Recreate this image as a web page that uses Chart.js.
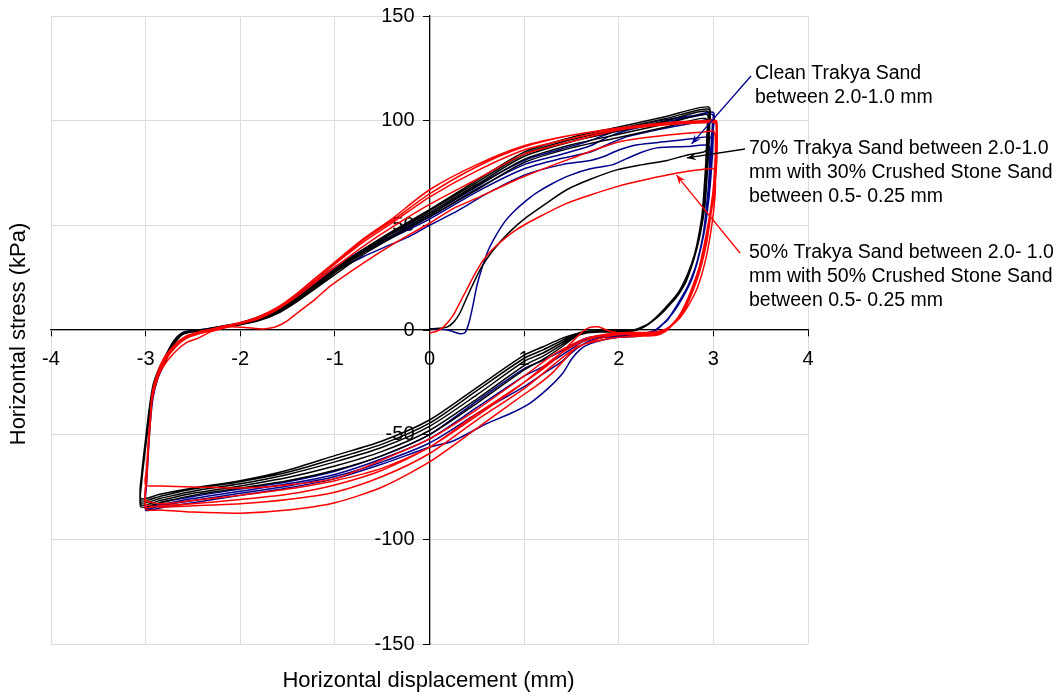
<!DOCTYPE html>
<html><head><meta charset="utf-8">
<script src="https://cdn.jsdelivr.net/npm/chart.js@4.4.1/dist/chart.umd.min.js"></script>
<style>html,body{margin:0;padding:0;background:#fff}canvas{display:block}</style>
</head><body>
<canvas id="c" width="1060" height="697"></canvas>
<script>
// ---- axis settings ----
const xMin = -4, xMax = 4, xStep = 1;
const yMin = -150, yMax = 150, yStep = 50;
const xTitle = 'Horizontal displacement (mm)';
const yTitle = 'Horizontal stress (kPa)';

// ---- Clean Trakya Sand (blue) ----
const blue0 = [[0,0.3],[0.15,0.3],[0.25,-0.8],[0.33,-1.8],[0.38,-1],[0.42,4],[0.46,12],[0.5,21],[0.55,29],[0.62,38],[0.7,45],[0.8,52],[0.9,57],[1.0,61],[1.13,65.5],[1.3,70],[1.49,74],[1.7,77],[1.94,79],[2.09,82],[2.25,85],[2.4,87],[2.72,87.6],[2.95,88]];
const blue1 = [[2.96,80],[2.95,70],[2.93,60],[2.9,48],[2.86,38],[2.8,28],[2.72,20],[2.62,12],[2.52,5],[2.42,1],[2.35,-1.5],[2.2,-3],[2.0,-3.5],[1.85,-4.5],[1.7,-6.5],[1.6,-9],[1.5,-14],[1.41,-20.5],[1.25,-28],[1.06,-35],[0.85,-40],[0.61,-44.6],[0.25,-53],[0,-56],[-0.5,-64],[-1,-71],[-1.5,-75.5],[-2,-79],[-2.5,-82.5],[-2.85,-85],[-3.0,-86],[-2.99,-74],[-2.97,-58],[-2.95,-44],[-2.92,-32],[-2.87,-23],[-2.8,-16],[-2.72,-8],[-2.63,-2.5],[-2.55,-1],[-2.4,-0.2],[-2.25,0.8],[-2.0,2.8],[-1.8,5],[-1.6,9],[-1.4,15],[-1.2,22],[-1.0,28],[-0.7,35],[-0.4,41],[-0.2,45],[0,50],[0.3,57],[0.6,65],[1.0,74],[1.4,79],[1.7,81],[1.85,83],[2.0,86],[2.2,88.5],[2.5,90],[2.8,91.5],[2.97,92]];
const blue2 = [[2.97,85],[2.96,75],[2.94,63],[2.91,50],[2.87,40],[2.81,30],[2.73,21],[2.63,13],[2.53,6],[2.43,1.5],[2.35,-1],[2.2,-2.5],[2.0,-3],[1.85,-3.5],[1.7,-5],[1.6,-7.5],[1.5,-11],[1.4,-15],[1.2,-21],[1.0,-27],[0.5,-40],[0,-54],[-0.5,-63],[-1,-70],[-1.5,-74.5],[-2,-78],[-2.5,-81.5],[-2.85,-84],[-3.0,-85.5],[-2.99,-73],[-2.97,-57],[-2.95,-43],[-2.92,-31],[-2.87,-22],[-2.8,-15],[-2.72,-7.5],[-2.63,-2.2],[-2.55,-0.8],[-2.4,0],[-2.25,1],[-2.0,3],[-1.8,5.5],[-1.6,9.5],[-1.4,15.5],[-1.2,22.5],[-1.0,29],[-0.7,37],[-0.4,44],[0,53],[0.5,66],[1.0,77],[1.4,82],[1.7,85],[1.9,89],[2.1,92.5],[2.5,96.5],[2.8,99],[2.98,100.5]];
const blue3 = [[2.98,92],[2.97,80],[2.95,67],[2.92,54],[2.88,42],[2.82,31],[2.75,22],[2.65,14],[2.55,7],[2.45,2],[2.37,-0.5],[2.2,-2],[2.0,-2.5],[1.85,-3],[1.7,-4],[1.6,-6],[1.5,-9],[1.4,-12],[1.2,-17.5],[1.0,-22],[0.5,-37],[0,-52],[-0.5,-61.5],[-1,-69],[-1.5,-73.5],[-2,-77],[-2.5,-80.5],[-2.85,-83.5],[-3.0,-85],[-2.99,-72],[-2.97,-56],[-2.95,-42],[-2.92,-30],[-2.87,-21],[-2.8,-14],[-2.72,-7],[-2.63,-2],[-2.55,-0.6],[-2.4,0.2],[-2.25,1.2],[-2.0,3.2],[-1.8,6],[-1.6,10],[-1.4,16],[-1.2,23],[-1.0,29.5],[-0.7,38],[-0.4,45],[0,54],[0.5,67.5],[1.0,79],[1.4,84],[1.7,88],[1.9,92.5],[2.1,95.5],[2.5,99.5],[2.8,102],[2.99,103]];
const blue4 = [[2.99,95],[2.98,83],[2.96,70],[2.93,57],[2.89,45],[2.83,33],[2.76,23],[2.66,14.5],[2.56,7.5],[2.46,2.5],[2.38,-0.3],[2.2,-1.8],[2.0,-2.2],[1.85,-2.5],[1.7,-3.5],[1.6,-5],[1.5,-7.5],[1.4,-10],[1.2,-14.5],[1.0,-18.5],[0.5,-34],[0,-50],[-0.5,-60],[-1,-67.5],[-1.5,-72.5],[-2,-76],[-2.5,-79.5],[-2.85,-82.5],[-3.0,-84.5],[-2.99,-71],[-2.97,-55],[-2.95,-41],[-2.92,-29],[-2.87,-20.5],[-2.8,-13.5],[-2.72,-6.5],[-2.63,-1.8],[-2.55,-0.5],[-2.4,0.3],[-2.25,1.3],[-2.0,3.4],[-1.8,6.3],[-1.6,10.5],[-1.4,16.5],[-1.2,23.5],[-1.0,30],[-0.7,38.5],[-0.4,46],[0,55],[0.5,69],[1.0,81],[1.4,86.5],[1.7,90.5],[1.9,94],[2.1,97],[2.5,100.5],[2.8,102.5],[3.0,104]];
const blue5 = [[3.0,96],[2.99,84],[2.97,71],[2.94,58],[2.9,46],[2.84,34],[2.77,24],[2.67,15],[2.57,8],[2.47,3],[2.39,0]];

// ---- 70% Trakya + 30% Crushed Stone (black) ----
const black0 = [[0,0.5],[0.1,0.8],[0.19,1.5],[0.26,4],[0.32,8],[0.38,14],[0.45,21],[0.55,30],[0.67,38],[0.85,47],[1.03,54],[1.25,61],[1.45,67],[1.7,72],[1.98,76.5],[2.25,79],[2.51,81],[2.72,83.5],[2.9,85],[2.93,86]];
const black1 = [[2.93,80],[2.92,70],[2.9,60],[2.87,48],[2.82,38],[2.76,29],[2.7,22],[2.6,15],[2.47,9],[2.35,4],[2.25,1],[2.15,-0.5],[2.0,-1],[1.8,-1],[1.65,-1.5],[1.55,-3],[1.4,-8],[1.2,-14],[1.0,-19],[0.5,-35],[0,-50],[-0.5,-60],[-1,-67],[-1.5,-72],[-2,-75.5],[-2.5,-79],[-2.85,-82.5],[-3.05,-84.5],[-3.04,-72],[-3.0,-56],[-2.96,-41],[-2.92,-30],[-2.86,-21],[-2.78,-14],[-2.7,-7],[-2.62,-2.5],[-2.52,-1],[-2.35,0],[-2.2,1],[-2.0,2.5],[-1.8,4.5],[-1.58,8.5],[-1.4,13.5],[-1.2,20],[-1.0,26.5],[-0.7,36],[-0.4,44],[0,54],[0.5,67],[1.0,80],[1.5,87],[2.0,92],[2.5,97],[2.92,101]];
const black2 = [[2.93,92],[2.92,80],[2.9,66],[2.88,55],[2.84,44],[2.79,34],[2.72,25],[2.62,17],[2.5,10],[2.38,5],[2.27,1.5],[2.15,-0.3],[2.0,-0.8],[1.8,-0.8],[1.65,-1.2],[1.55,-2.5],[1.4,-7],[1.2,-12.5],[1.0,-17],[0.5,-33],[0,-48],[-0.5,-58],[-1,-65],[-1.5,-70.5],[-2,-74.5],[-2.5,-78],[-2.85,-81.5],[-3.05,-83.5],[-3.04,-71],[-3.0,-55],[-2.96,-40],[-2.92,-29],[-2.86,-20],[-2.78,-13],[-2.7,-6.5],[-2.62,-2.2],[-2.52,-0.8],[-2.35,0.2],[-2.2,1.2],[-2.0,2.8],[-1.8,5],[-1.58,9],[-1.4,14],[-1.2,20.5],[-1.0,27.5],[-0.7,37],[-0.4,45],[0,55],[0.5,68.5],[1.0,81.5],[1.5,88.5],[2.0,93.5],[2.5,98.5],[2.93,103]];
const black3 = [[2.94,94],[2.93,82],[2.91,68],[2.89,56],[2.85,45],[2.8,35],[2.73,26],[2.63,17.5],[2.5,10.5],[2.38,5],[2.27,1.5],[2.15,-0.3],[2.0,-0.6],[1.8,-0.6],[1.65,-1],[1.55,-2.2],[1.4,-6],[1.2,-11],[1.0,-15],[0.5,-31],[0,-46],[-0.5,-56],[-1,-63],[-1.5,-69],[-2,-73.5],[-2.5,-77],[-2.85,-80.5],[-3.05,-82.5],[-3.04,-70],[-3.0,-54],[-2.96,-39],[-2.92,-28],[-2.86,-19.5],[-2.78,-12.5],[-2.7,-6],[-2.62,-2],[-2.52,-0.6],[-2.35,0.3],[-2.2,1.4],[-2.0,3],[-1.8,5.5],[-1.58,9.5],[-1.4,14.5],[-1.2,21],[-1.0,28],[-0.7,37.5],[-0.4,46],[0,56],[0.5,69.5],[1.0,83],[1.5,90],[2.0,95],[2.5,100],[2.94,104.5]];
const black4 = [[2.94,95],[2.93,83],[2.91,69],[2.89,57],[2.85,46],[2.8,36],[2.73,27],[2.63,18],[2.5,11],[2.38,5.5],[2.27,1.8],[2.15,-0.2],[2.0,-0.5],[1.8,-0.5],[1.65,-0.8],[1.55,-2],[1.4,-5],[1.2,-9.5],[1.0,-13.5],[0.5,-29],[0,-44.5],[-0.5,-54.5],[-1,-61.5],[-1.5,-68],[-2,-72.5],[-2.5,-76],[-2.85,-79.5],[-3.05,-81.5],[-3.04,-69],[-3.0,-53],[-2.96,-38],[-2.92,-27],[-2.86,-19],[-2.78,-12],[-2.7,-5.5],[-2.62,-1.8],[-2.52,-0.5],[-2.35,0.4],[-2.2,1.6],[-2.0,3.2],[-1.8,6],[-1.58,10],[-1.4,15],[-1.2,21.5],[-1.0,28.5],[-0.7,38],[-0.4,46.5],[0,57],[0.5,70.5],[1.0,84],[1.5,91],[2.0,96],[2.5,101],[2.95,105.5]];
const black5 = [[2.95,96],[2.94,84],[2.92,70],[2.9,58],[2.86,47],[2.81,37],[2.74,28],[2.64,18.5],[2.52,11.5],[2.4,6],[2.28,2],[2.15,0],[2.0,-0.4],[1.8,-0.4],[1.65,-0.6],[1.55,-1.8],[1.4,-4],[1.2,-8],[1.0,-12],[0.5,-27.5],[0,-43],[-0.5,-53],[-1,-60],[-1.5,-67],[-2,-72],[-2.5,-75.5],[-2.85,-78.5],[-3.05,-80.5],[-3.04,-68],[-3.0,-52],[-2.96,-37],[-2.92,-26],[-2.86,-18.5],[-2.78,-11.5],[-2.7,-5],[-2.62,-1.6],[-2.52,-0.4],[-2.35,0.5],[-2.2,1.8],[-2.0,3.4],[-1.8,6.3],[-1.58,10.5],[-1.4,15.5],[-1.2,22],[-1.0,29],[-0.7,38.5],[-0.4,47],[0,57.5],[0.5,71.5],[1.0,85],[1.5,92],[2.0,97],[2.5,102],[2.95,106.5]];
const black6 = [[2.96,97],[2.95,85],[2.93,71],[2.91,59],[2.87,48],[2.82,38],[2.75,29],[2.66,19],[2.54,12],[2.42,6.5],[2.3,2.5],[2.18,0.3]];

// ---- 50% Trakya + 50% Crushed Stone (red) ----
const red0 = [[0,-1.5],[0.08,-0.5],[0.15,1.5],[0.25,7],[0.32,13],[0.39,19],[0.47,26],[0.57,33.5],[0.7,40],[0.92,48],[1.2,55],[1.45,60.5],[1.7,64.5],[1.98,68.5],[2.3,72],[2.62,75],[2.85,76.5],[3.01,77]];
const red1 = [[3.02,74],[3.02,66],[3.0,56],[2.97,46],[2.93,36],[2.88,27],[2.82,19],[2.74,12],[2.65,6],[2.56,2],[2.5,-0.5],[2.4,-2.5],[2.2,-3],[2.0,-3.5],[1.85,-4.5],[1.7,-6],[1.56,-8],[1.45,-13],[1.31,-20],[1.15,-26],[0.96,-32],[0.5,-47],[0,-63],[-0.5,-75],[-1,-82.5],[-1.5,-86],[-2,-87.5],[-2.5,-87],[-2.85,-86],[-3.0,-85.5],[-2.99,-72],[-2.97,-56],[-2.95,-44],[-2.93,-33],[-2.88,-24],[-2.82,-18],[-2.7,-11],[-2.57,-6],[-2.45,-4],[-2.32,-1],[-2.2,0.5],[-2.11,1.5],[-1.95,1.2],[-1.76,0.5],[-1.65,1.2],[-1.58,2.4],[-1.5,4.5],[-1.4,8],[-1.2,15],[-1.05,21],[-0.7,32],[-0.35,42],[0,51],[0.25,58],[0.5,63],[0.96,72.6],[1.5,82],[2.02,90],[2.5,93],[2.9,94.6],[3.0,95]];
const red2 = [[3.02,92],[3.02,84],[3.01,74],[2.99,64],[2.95,52],[2.9,40],[2.85,30],[2.79,22],[2.72,14],[2.64,7],[2.55,2],[2.48,-1],[2.35,-2.5],[2.2,-2.5],[2.05,-2],[1.9,-0.5],[1.78,1.5],[1.68,1],[1.6,-1.5],[1.5,-6],[1.3,-15],[1.0,-25],[0.5,-40],[0,-56],[-0.5,-67],[-1,-74],[-1.5,-78.5],[-2,-81],[-2.5,-83],[-2.85,-84],[-3.0,-84.5],[-2.99,-72],[-2.97,-56],[-2.95,-44],[-2.93,-33],[-2.87,-22],[-2.8,-15],[-2.68,-8],[-2.57,-4],[-2.45,-2],[-2.32,-0.5],[-2.2,1],[-2.0,3],[-1.8,5.5],[-1.6,10],[-1.4,16],[-1.2,23],[-1.0,30],[-0.7,40],[-0.4,49],[0,60],[0.5,72],[1.0,84],[1.5,90],[2.0,95.5],[2.5,98],[2.9,99],[3.02,99]];
const red3 = [[3.03,95],[3.03,86],[3.02,76],[3.0,66],[2.96,54],[2.92,42],[2.87,32],[2.81,23],[2.74,15],[2.66,8],[2.57,3],[2.5,0],[2.4,-1.5],[2.25,-2],[2.1,-2],[1.95,-2.5],[1.8,-4],[1.65,-6.5],[1.5,-10],[1.3,-17],[1.0,-28],[0.5,-43],[0,-59],[-0.5,-70],[-1,-77.5],[-1.5,-81],[-2,-83],[-2.5,-84],[-2.85,-84.5],[-3.0,-83],[-2.99,-71],[-2.97,-55],[-2.95,-43],[-2.93,-32],[-2.87,-21],[-2.8,-14],[-2.68,-7.5],[-2.57,-3.5],[-2.45,-1.5],[-2.32,0],[-2.2,1.3],[-2.0,3.3],[-1.8,6],[-1.6,10.5],[-1.4,17],[-1.2,24],[-1.0,31.5],[-0.7,42],[-0.4,51],[0,63.5],[0.5,76],[1.0,86],[1.5,91.5],[2.0,96],[2.5,98.5],[2.9,99.5],[3.03,99.5]];
const red4 = [[3.04,96],[3.04,87],[3.03,77],[3.01,67],[2.97,55],[2.93,43],[2.88,33],[2.82,24],[2.75,16],[2.67,9],[2.58,3.5],[2.5,0.5],[2.4,-1],[2.25,-1.5],[2.1,-1.5],[1.95,-2],[1.8,-3],[1.65,-5],[1.5,-8],[1.3,-14],[1.0,-25],[0.5,-41],[0,-56],[-0.5,-66],[-1,-72],[-1.5,-76],[-2,-79],[-2.5,-81.5],[-2.85,-83],[-3.0,-81],[-2.99,-70],[-2.97,-54],[-2.95,-42],[-2.93,-31],[-2.87,-20.5],[-2.8,-13.5],[-2.68,-7],[-2.57,-3],[-2.45,-1.2],[-2.32,0.2],[-2.2,1.5],[-2.0,3.5],[-1.8,6.5],[-1.6,11],[-1.4,17.5],[-1.2,25],[-1.0,32.5],[-0.7,43.5],[-0.4,53],[0,67],[0.5,79],[1.0,88],[1.5,93],[2.0,96.5],[2.5,99],[2.9,100],[3.03,100]];
const red5 = [[3.04,96],[3.04,87],[3.03,77],[3.01,67],[2.97,55],[2.93,43],[2.88,33],[2.82,24],[2.75,16],[2.67,9],[2.58,3.5],[2.5,0.5],[2.4,-0.8],[2.25,-1.2],[2.1,-1.2],[1.95,-1.5],[1.8,-2.5],[1.65,-4],[1.5,-7],[1.3,-12],[1.0,-22],[0.5,-38],[0,-52],[-0.5,-62],[-1,-71],[-1.5,-74],[-2,-75.5],[-2.5,-75],[-2.85,-74.5],[-3.0,-74],[-2.99,-66],[-2.97,-52],[-2.95,-41],[-2.93,-30],[-2.87,-20],[-2.8,-13],[-2.68,-6.5],[-2.57,-2.8],[-2.45,-1],[-2.32,0.3],[-2.2,1.6],[-2.0,3.6],[-1.8,6.5],[-1.6,11],[-1.4,17.5],[-1.2,25],[-1.0,32],[-0.7,43],[-0.4,52],[0,65],[0.5,78],[1.0,87.5],[1.5,93],[2.0,96.5],[2.5,99],[2.9,100],[3.03,100]];
const red6 = [[3.04,95],[3.04,86],[3.03,76],[3.01,66],[2.97,54],[2.93,42],[2.88,32],[2.82,23],[2.75,15],[2.67,8],[2.58,3],[2.5,0]];

// ---- labels (annotation text + arrow target in data units) ----
const labelBlue = ['Clean Trakya Sand', 'between 2.0-1.0 mm'];
const labelBlack = ['70% Trakya Sand between 2.0-1.0', 'mm with 30% Crushed Stone Sand', 'between 0.5- 0.25 mm'];
const labelRed = ['50% Trakya Sand between 2.0- 1.0', 'mm with 50% Crushed Stone Sand', 'between 0.5- 0.25 mm'];
const arrowBlue = [2.77, 88.9];
const arrowBlack = [2.72, 82.2];
const arrowRed = [2.61, 74];

const BLUE = '#00008b', BLACK = '#000000', RED = '#ff0000';
const FONT = '"Liberation Sans", Arial, sans-serif';
const toPts = paths => [].concat(...paths).map(p => ({x: p[0], y: p[1]}));

function ds(label, paths, color, order) {
  return {label, data: toPts(paths), borderColor: color, backgroundColor: color,
    borderWidth: 1.5, pointRadius: 0, showLine: true, tension: 0.25, order, fill: false};
}

// y tick labels of an axis placed at x=0 sit right on the axis line in Chart.js;
// move them left by tick length + a gap, as in the reference.
const Y_LABEL_GAP = 9;
const yLabelShift = {
  id: 'yLabelShift',
  beforeDraw(chart) {
    const s = chart.scales.y;
    if (!s || !s.getLabelItems) return;
    const items = s.getLabelItems();
    const shift = s.options.grid.tickLength + Y_LABEL_GAP;
    items.forEach(it => {
      if (it && it.options && it.options.translation && !it._shifted) {
        it.options.translation[0] -= shift; it._shifted = true;
      }
    });
  }
};

const annotPlugin = {
  id: 'annot',
  afterDraw(chart) {
    const ctx = chart.ctx, xs = chart.scales.x, ys = chart.scales.y;
    ctx.save();
    ctx.fillStyle = '#000';
    ctx.font = '22px ' + FONT;
    ctx.textAlign = 'center'; ctx.textBaseline = 'middle';
    ctx.fillText(xTitle, xs.getPixelForValue(0) - 1, 681);
    ctx.save();
    ctx.translate(19, ys.getPixelForValue(0) + 4);
    ctx.rotate(-Math.PI / 2);
    ctx.fillText(yTitle, 0, 0);
    ctx.restore();

    ctx.font = '19.5px ' + FONT;
    ctx.textAlign = 'left';
    const drawLines = (lines, x, y0, dy) => lines.forEach((t, i) => ctx.fillText(t, x, y0 + i * dy));
    drawLines(labelBlue, 755, 74, 23.5);
    drawLines(labelBlack, 749, 149, 24);
    drawLines(labelRed, 749, 253, 23.7);

    const arrow = (x1, y1, tgt, color) => {
      const x2 = xs.getPixelForValue(tgt[0]), y2 = ys.getPixelForValue(tgt[1]);
      ctx.strokeStyle = color; ctx.fillStyle = color; ctx.lineWidth = 1.3;
      ctx.beginPath(); ctx.moveTo(x1, y1); ctx.lineTo(x2, y2); ctx.stroke();
      const a = Math.atan2(y2 - y1, x2 - x1), L = 10, w = 0.38;
      ctx.beginPath();
      ctx.moveTo(x2, y2);
      ctx.lineTo(x2 - L * Math.cos(a - w), y2 - L * Math.sin(a - w));
      ctx.lineTo(x2 - 0.6 * L * Math.cos(a), y2 - 0.6 * L * Math.sin(a));
      ctx.lineTo(x2 - L * Math.cos(a + w), y2 - L * Math.sin(a + w));
      ctx.closePath(); ctx.fill();
    };
    arrow(751, 76, arrowBlue, BLUE);
    arrow(745, 149, arrowBlack, BLACK);
    arrow(740, 253, arrowRed, RED);
    ctx.restore();
  }
};

new Chart(document.getElementById('c'), {
  type: 'scatter',
  data: {datasets: [
    ds('50% Trakya Sand', [red0, red1, red2, red3, red4, red5, red6], RED, 1),
    ds('70% Trakya Sand', [black0, black1, black2, black3, black4, black5, black6], BLACK, 2),
    ds('Clean Trakya Sand', [blue0, blue1, blue2, blue3, blue4, blue5], BLUE, 3)
  ]},
  options: {
    responsive: false, animation: false, devicePixelRatio: 1,
    layout: {padding: {left: 51, right: 252, top: 16, bottom: 53}},
    plugins: {legend: {display: false}, tooltip: {enabled: false}},
    scales: {
      x: {type: 'linear', min: xMin, max: xMax, position: {y: 0},
        ticks: {stepSize: xStep, color: '#000', font: {size: 20, family: FONT}, padding: 11, maxRotation: 0},
        grid: {color: '#dcdcdc', lineWidth: 1, tickColor: '#000', tickLength: 6, drawTicks: true},
        border: {display: true, color: '#000', width: 1.3}},
      y: {type: 'linear', min: yMin, max: yMax, position: {x: 0},
        ticks: {stepSize: yStep, color: '#000', font: {size: 20, family: FONT}, padding: 0},
        grid: {color: '#dcdcdc', lineWidth: 1, tickColor: '#000', tickLength: 6, drawTicks: true},
        border: {display: true, color: '#000', width: 1.3}}
    }
  },
  plugins: [yLabelShift, annotPlugin]
});
</script>
</body></html>
